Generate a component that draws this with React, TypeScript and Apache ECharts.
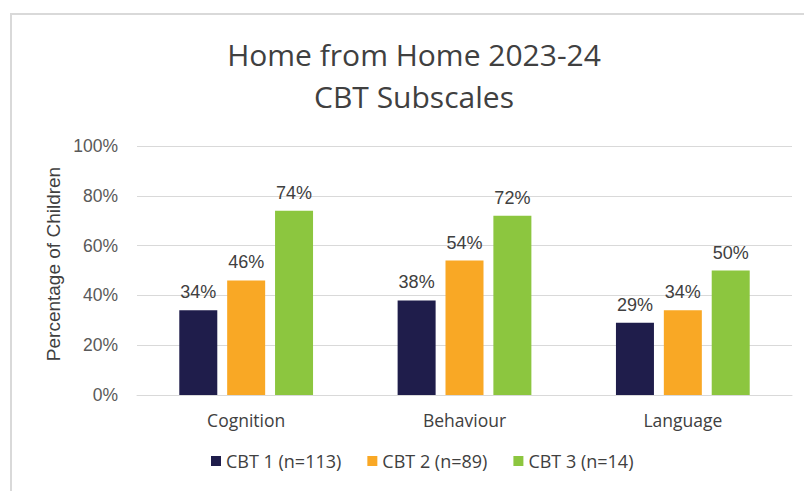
import React, { useEffect, useRef } from "react";
import * as echarts from "echarts";

const titleLines = ["Home from Home 2023-24", "CBT Subscales"];
const yAxisName = "Percentage of Children";
const categories = ["Cognition", "Behaviour", "Language"];
const seriesNames = ["CBT 1 (n=113)", "CBT 2 (n=89)", "CBT 3 (n=14)"];
const cbt1 = [34, 38, 29];
const cbt2 = [46, 54, 34];
const cbt3 = [74, 72, 50];
const colors = ["#1f1d4b", "#f9a825", "#8cc63f"];

export default function App() {
  const ref = useRef<HTMLDivElement>(null);
  useEffect(() => {
    if (!ref.current) return;
    const chart = echarts.init(ref.current, undefined, { renderer: "svg" });
    const values = [cbt1, cbt2, cbt3];
    chart.setOption({
      animation: false,
      backgroundColor: "#ffffff",
      graphic: [
        {
          type: "rect",
          shape: { x: 11, y: 14, width: 1000, height: 1000 },
          style: { fill: "none", stroke: "#d9d9d9", lineWidth: 2 },
          silent: true,
        },
        ...titleLines.map((t, i) => ({
          type: "text",
          x: 414,
          y: 54 + i * 42,
          silent: true,
          style: {
            text: t,
            fontFamily: "Open Sans",
            fontSize: 30,
            fill: "#404040",
            textAlign: "center",
            textVerticalAlign: "middle",
          },
        })),
        {
          type: "text",
          x: 53,
          y: 264,
          rotation: Math.PI / 2,
          silent: true,
          style: {
            text: yAxisName,
            fontFamily: "Liberation Sans",
            fontSize: 19,
            fill: "#404040",
            textAlign: "center",
            textVerticalAlign: "middle",
          },
        },
      ],
      grid: { left: 137, right: 12, top: 146, bottom: 96 },
      legend: {
        bottom: 16,
        left: 206,
        itemWidth: 10,
        itemHeight: 10,
        itemGap: 26,
        icon: "rect",
        textStyle: { fontFamily: "Open Sans", fontSize: 18, color: "#404040" },
        data: seriesNames,
      },
      xAxis: {
        type: "category",
        data: categories,
        axisLine: { lineStyle: { color: "#d9d9d9", width: 1 } },
        axisTick: { show: false },
        axisLabel: {
          fontFamily: "Open Sans",
          fontSize: 17.5,
          color: "#404040",
          margin: 16,
        },
      },
      yAxis: {
        type: "value",
        min: 0,
        max: 100,
        interval: 20,
        axisLabel: {
          formatter: "{value}%",
          fontFamily: "Liberation Sans",
          fontSize: 17.5,
          color: "#595959",
          margin: 19,
        },
        splitLine: { lineStyle: { color: "#d9d9d9", width: 1 } },
        axisLine: { show: false },
        axisTick: { show: false },
      },
      series: seriesNames.map((name, i) => ({
        name,
        type: "bar",
        data: values[i],
        barWidth: 38,
        barGap: "26%",
        itemStyle: { color: colors[i] },
        label: {
          show: true,
          position: "top",
          distance: 9,
          formatter: "{c}%",
          fontFamily: "Liberation Sans",
          fontSize: 18,
          color: "#404040",
        },
      })),
    });
    return () => chart.dispose();
  }, []);
  return <div ref={ref} style={{ width: 804, height: 491, position: "absolute", left: 0, top: 0 }} />;
}
